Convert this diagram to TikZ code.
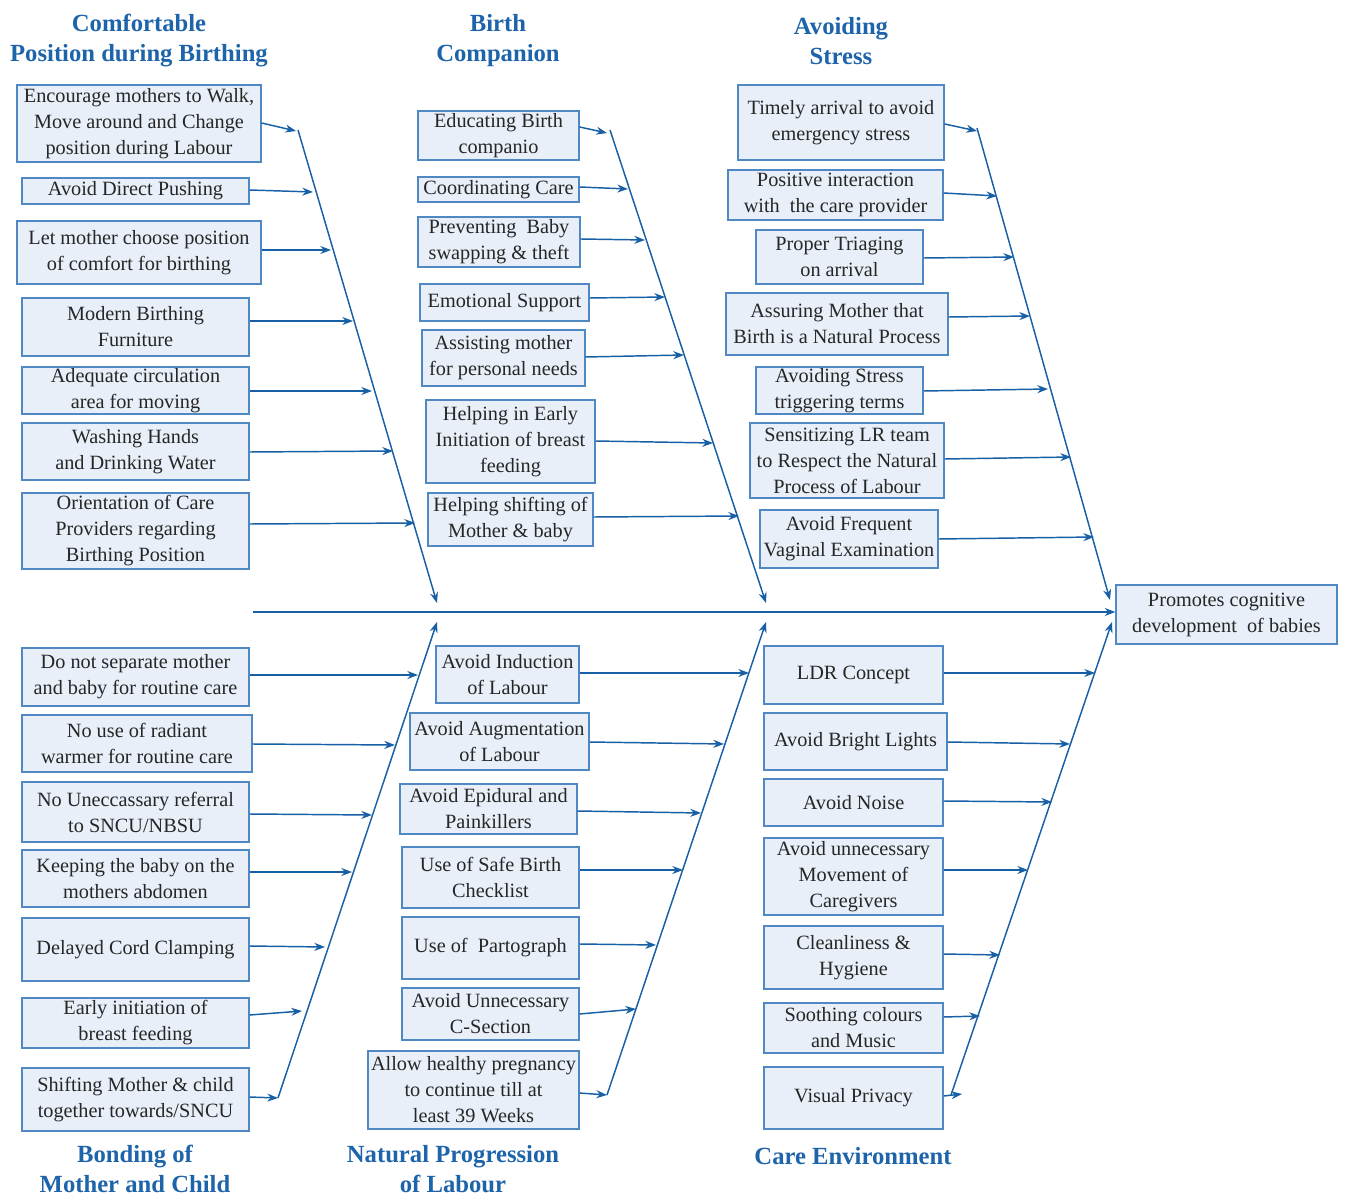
\documentclass[tikz,border=0pt]{standalone}
\usepackage{fontspec}
\setmainfont{Liberation Serif}
\usetikzlibrary{arrows.meta}
\definecolor{lblue}{RGB}{24,96,166}
\definecolor{tblue}{RGB}{30,100,170}
\definecolor{bfill}{RGB}{232,239,248}
\definecolor{bdraw}{RGB}{80,136,196}
\newcommand\bx[6]{\node[box,minimum width={(#4-#2)*0.75pt},minimum height={(#5-#3)*0.75pt}] (#1) at ({(#2+#4)/2},{(#3+#5)/2}) {#6};}
\begin{document}
\begin{tikzpicture}[x=0.75pt,y=-0.75pt,
  box/.style={draw=bdraw,fill=bfill,line width=0.9pt,inner sep=1pt,align=center,
    font=\fontsize{15.2}{19.5}\selectfont,text=black!85},
  conn/.style={draw=lblue,line width=1.1pt,-{Stealth[length=8pt,width=6pt]}},
  spine/.style={draw=lblue,line width=1.1pt,-{Stealth[length=8pt,width=6pt]}},
  title/.style={align=center,text=tblue,font=\bfseries\fontsize{18.5}{22.5}\selectfont}]
\useasboundingbox (0,0) rectangle (1346,1198);

% titles
\node[title] (T1) at (139,41) {Comfortable\\Position during Birthing};
\node[title] (T2) at (498,41) {Birth\\Companion};
\node[title] (T3) at (841,41) {Avoiding\\Stress};
\node[title] (T4) at (135,1169) {Bonding of\\Mother and Child};
\node[title] (T5) at (453,1169) {Natural Progression\\of Labour};
\node[title] (T6) at (853,1156) {Care Environment};

% effect and main spine
\bx{eff}{1116}{585}{1337}{644}{Promotes cognitive\\development\ \ of babies}
\coordinate (M0) at (253,612);
\draw[spine] (M0) -- (eff.west |- M0);

% ---------- group 1: Comfortable Position ----------
\coordinate (S1a) at (298,130); \coordinate (S1b) at (437,603);
\draw[spine] (S1a) -- (S1b);
\bx{a1}{17}{85}{261}{162}{Encourage mothers to Walk,\\Move around and Change\\position during Labour}
\bx{a2}{22}{178}{249}{204}{Avoid Direct Pushing}
\bx{a3}{17}{221}{261}{284}{Let mother choose position\\of\ comfort for birthing}
\bx{a4}{22}{298}{249}{356}{Modern Birthing\\Furniture}
\bx{a5}{22}{369}{249}{412}{Adequate circulation\\area for moving}
\bx{a6}{22}{423}{249}{480}{Washing Hands\\and Drinking Water}
\bx{a7}{22}{493}{249}{569}{Orientation of Care\\Providers regarding\\Birthing Position}
\coordinate (a1e) at (296,131);
\coordinate (a2e) at (313,192);
\coordinate (a3e) at (331,250);
\coordinate (a4e) at (353,321);
\coordinate (a5e) at (372,391);
\coordinate (a6e) at (393,451);
\coordinate (a7e) at (415,523);
\foreach \i/\sy in {1/123,2/190,3/250,4/321,5/391,6/452,7/524}
  {\draw[conn] (a\i.east |- 0,\sy) -- (a\i e);}

% ---------- group 2: Birth Companion ----------
\coordinate (S2a) at (610,130); \coordinate (S2b) at (766,603);
\draw[spine] (S2a) -- (S2b);
\bx{b1}{418}{111}{579}{160}{Educating Birth\\companio}
\bx{b2}{418}{177}{579}{202}{Coordinating Care}
\bx{b3}{418}{217}{580}{267}{Preventing\ \ Baby\\swapping \& theft}
\bx{b4}{420}{284}{589}{321}{Emotional Support}
\bx{b5}{422}{330}{585}{386}{Assisting mother\\for personal needs}
\bx{b6}{426}{400}{595}{483}{Helping in Early\\Initiation of breast\\feeding}
\bx{b7}{428}{493}{593}{546}{Helping shifting of\\Mother \& baby}
\coordinate (b1e) at (607,133);
\coordinate (b2e) at (628,189);
\coordinate (b3e) at (645,240);
\coordinate (b4e) at (665,297);
\coordinate (b5e) at (684,355);
\coordinate (b6e) at (713,443);
\coordinate (b7e) at (739,516);
\foreach \i/\sy in {1/127,2/187,3/239,4/298,5/357,6/441,7/517}
  {\draw[conn] (b\i.east |- 0,\sy) -- (b\i e);}

% ---------- group 3: Avoiding Stress ----------
\coordinate (S3a) at (977,128); \coordinate (S3b) at (1110,600);
\draw[spine] (S3a) -- (S3b);
\bx{c1}{738}{85}{944}{160}{Timely arrival to avoid\\emergency stress}
\bx{c2}{728}{170}{943}{220}{Positive interaction\\with\ \ the care provider}
\bx{c3}{756}{230}{923}{284}{Proper Triaging\\on arrival}
\bx{c4}{726}{293}{948}{355}{Assuring Mother that\\Birth is a Natural Process}
\bx{c5}{756}{367}{923}{414}{Avoiding Stress\\triggering terms}
\bx{c6}{750}{423}{944}{498}{Sensitizing LR team\\to Respect the Natural\\Process of Labour}
\bx{c7}{760}{510}{938}{568}{Avoid Frequent\\Vaginal Examination}
\coordinate (c1e) at (977,131);
\coordinate (c2e) at (997,196);
\coordinate (c3e) at (1014,257);
\coordinate (c4e) at (1030,316);
\coordinate (c5e) at (1048,389);
\coordinate (c6e) at (1071,457);
\coordinate (c7e) at (1094,537);
\foreach \i/\sy in {1/124,2/193,3/258,4/317,5/391,6/459,7/539}
  {\draw[conn] (c\i.east |- 0,\sy) -- (c\i e);}

% ---------- group 4: Bonding ----------
\coordinate (S4a) at (278,1098); \coordinate (S4b) at (437,622);
\draw[spine] (S4a) -- (S4b);
\bx{d1}{22}{648}{249}{706}{Do not separate mother\\and baby for routine care}
\bx{d2}{22}{715}{252}{772}{No use of\ radiant\\warmer for routine care}
\bx{d3}{22}{782}{249}{842}{No Uneccassary referral\\to SNCU/NBSU}
\bx{d4}{22}{850}{249}{907}{Keeping the baby on the\\mothers abdomen}
\bx{d5}{22}{918}{249}{981}{Delayed Cord Clamping}
\bx{d6}{22}{998}{249}{1048}{Early initiation of\\breast feeding}
\bx{d7}{22}{1068}{249}{1131}{Shifting Mother \& child\\together towards/SNCU}
\coordinate (d1e) at (418,675);
\coordinate (d2e) at (395,745);
\coordinate (d3e) at (372,815);
\coordinate (d4e) at (352,872);
\coordinate (d5e) at (325,947);
\coordinate (d6e) at (302,1011);
\coordinate (d7e) at (278,1098);
\foreach \i/\sy in {1/675,2/744,3/814,4/872,5/946,6/1015,7/1097}
  {\draw[conn] (d\i.east |- 0,\sy) -- (d\i e);}

% ---------- group 5: Natural Progression ----------
\coordinate (S5a) at (607,1095); \coordinate (S5b) at (766,622);
\draw[spine] (S5a) -- (S5b);
\bx{e1}{436}{646}{579}{703}{Avoid Induction\\of Labour}
\bx{e2}{410}{713}{589}{770}{Avoid Augmentation\\of Labour}
\bx{e3}{400}{784}{577}{834}{Avoid Epidural and\\Painkillers}
\bx{e4}{402}{847}{579}{908}{Use of\ Safe Birth\\Checklist}
\bx{e5}{402}{917}{579}{979}{Use of\ \ Partograph}
\bx{e6}{402}{988}{579}{1040}{Avoid Unnecessary\\C-Section}
\bx{e7}{368}{1051}{579}{1129}{Allow healthy pregnancy\\to continue till at\\least 39 Weeks}
\coordinate (e1e) at (749,673);
\coordinate (e2e) at (724,744);
\coordinate (e3e) at (701,813);
\coordinate (e4e) at (683,870);
\coordinate (e5e) at (656,945);
\coordinate (e6e) at (636,1009);
\coordinate (e7e) at (607,1095);
\foreach \i/\sy in {1/673,2/742,3/811,4/870,5/944,6/1014,7/1093}
  {\draw[conn] (e\i.east |- 0,\sy) -- (e\i e);}

% ---------- group 6: Care Environment ----------
\coordinate (S6a) at (951,1095); \coordinate (S6b) at (1112,622);
\draw[spine] (S6a) -- (S6b);
\bx{f1}{764}{646}{943}{704}{LDR Concept}
\bx{f2}{764}{713}{947}{770}{Avoid Bright Lights}
\bx{f3}{764}{779}{943}{826}{Avoid Noise}
\bx{f4}{764}{838}{943}{915}{Avoid unnecessary\\Movement of\\Caregivers}
\bx{f5}{764}{926}{943}{989}{Cleanliness \&\\Hygiene}
\bx{f6}{764}{1003}{943}{1053}{Soothing colours\\and Music}
\bx{f7}{764}{1067}{943}{1129}{Visual Privacy}
\coordinate (f1e) at (1095,673);
\coordinate (f2e) at (1070,744);
\coordinate (f3e) at (1052,802);
\coordinate (f4e) at (1028,870);
\coordinate (f5e) at (1000,955);
\coordinate (f6e) at (980,1016);
\coordinate (f7e) at (962,1094);
\foreach \i/\sy in {1/673,2/742,3/801,4/870,5/954,6/1017,7/1096}
  {\draw[conn] (f\i.east |- 0,\sy) -- (f\i e);}
\end{tikzpicture}
\end{document}
